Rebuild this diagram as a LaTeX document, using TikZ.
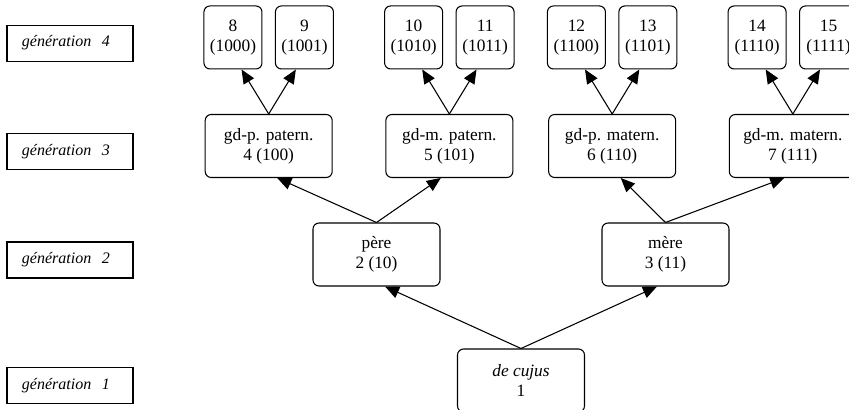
\documentclass[tikz,border=0pt]{standalone}
\usepackage{fontspec}
\setmainfont{Liberation Serif}
\usetikzlibrary{arrows.meta}

\tikzset{
  every node/.style={font=\fontsize{13}{15}\selectfont, align=center, inner sep=0pt},
  personne/.style={draw, rounded corners=4.5pt, minimum width=95.25pt, minimum height=47.25pt},
  aieul/.style={draw, rounded corners=4.5pt, minimum width=43.5pt, minimum height=47.25pt},
  generation/.style={draw, text width=72pt, inner xsep=11.25pt, minimum height=27pt,
    align=left, font=\fontsize{12}{14}\selectfont\itshape},
  versg/.style={child anchor=-75},
  versd/.style={child anchor=-105},
}

\begin{document}
\begin{tikzpicture}[line width=0.8pt, grow'=up, parent anchor=north,
    edge from parent/.style={draw, -{Triangle[length=10.5pt,width=9pt]}},
    level 1/.style={level distance=94.5pt, sibling distance=216.75pt},
    level 2/.style={level distance=81.4pt, sibling distance=135.5pt},
    level 3/.style={level distance=81.4pt, sibling distance=53.6pt}]
  \clip (-390.75pt,-21.4pt) rectangle (246pt,285.4pt);
  % colonne des generations
  \foreach \g/\y in {1/-3.75pt, 2/90.4pt, 3/171.75pt, 4/253.1pt}
    \node[generation] (gen\g) at (-338.25pt,\y) {génération\ \ \g};
  % arbre d'ascendance
  \node[personne] (decujus) {\textit{de cujus}\\1}
    child[versg] {
      node[personne] (pere) {père\\2 (10)}
      child[versg, xshift=-13.1pt] {
        node[personne] (gpp) {gd-p. patern.\\4 (100)}
        child[versg] {node[aieul] (a8) {8\\(1000)}}
        child[versd] {node[aieul] (a9) {9\\(1001)}}
      }
      child[versd, xshift=-13.1pt] {
        node[personne] (gmp) {gd-m. patern.\\5 (101)}
        child[versg] {node[aieul] (a10) {10\\(1010)}}
        child[versd] {node[aieul] (a11) {11\\(1011)}}
      }
    }
    child[versd] {
      node[personne] (mere) {mère\\3 (11)}
      child[versg, xshift=27.75pt] {
        node[personne] (gpm) {gd-p. matern.\\6 (110)}
        child[versg] {node[aieul] (a12) {12\\(1100)}}
        child[versd] {node[aieul] (a13) {13\\(1101)}}
      }
      child[versd, xshift=27.75pt] {
        node[personne] (gmm) {gd-m. matern.\\7 (111)}
        child[versg] {node[aieul] (a14) {14\\(1110)}}
        child[versd] {node[aieul] (a15) {15\\(1111)}}
      }
    };
\end{tikzpicture}
\end{document}
